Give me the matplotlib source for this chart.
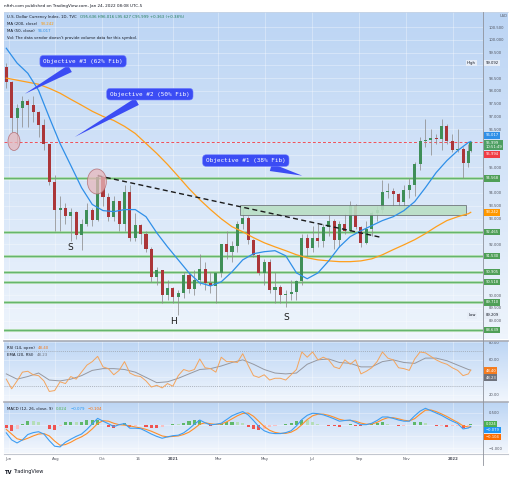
import numpy as np
import pandas as pd
import matplotlib
matplotlib.use("Agg")
import matplotlib.pyplot as plt
import matplotlib.dates as mdates
from matplotlib.colors import LinearSegmentedColormap
from matplotlib.patches import Ellipse, Rectangle
from matplotlib.lines import Line2D
from matplotlib.text import Annotation

# ---------------------------------------------------------------- data
# weekly bars (Friday closes) plus the live bar of Jan 24 2022
weeks = pd.DatetimeIndex(list(pd.date_range("2020-05-29", "2022-01-21", freq="W-FRI"))
                         + [pd.Timestamp("2022-01-24")])
biweeks = pd.DatetimeIndex(list(weeks[0:87:2]) + [weeks[-1]])

first_open = 98.95
close = np.array([
    98.34, 96.94, 97.33, 97.62, 97.43, 97.18, 96.65, 95.90, 94.44, 93.35,
    93.43, 93.09, 93.24, 92.37, 92.78, 93.33, 92.93, 94.64, 93.85, 93.06,
    93.68, 92.77, 94.04, 92.23, 92.76, 92.39, 91.79, 90.70, 90.97, 90.02,
    90.28, 89.94, 90.10, 90.77, 90.23, 90.58, 91.04, 90.48, 90.36, 90.88,
    91.99, 91.67, 91.92, 92.77, 93.02, 92.17, 91.56, 90.86, 91.28, 90.21,
    90.31, 90.01, 90.03, 90.13, 90.55, 92.23, 91.85, 92.23, 92.13, 92.66,
    92.91, 92.17, 92.80, 92.53, 93.50, 92.66, 92.05, 92.58, 93.20, 93.33,
    94.04, 94.09, 93.96, 93.64, 94.12, 94.33, 95.13, 96.03, 96.09, 96.14,
    96.10, 96.62, 96.02, 95.67, 95.73, 95.17, 95.64, 96.00])
high = np.array([
    99.09, 98.40, 97.50, 97.80, 97.70, 97.80, 97.20, 96.90, 95.90, 94.70,
    93.90, 93.60, 93.40, 93.30, 93.00, 93.60, 93.40, 94.75, 94.70, 94.00,
    93.90, 93.70, 94.30, 94.30, 93.20, 92.80, 92.50, 91.90, 91.10, 91.00,
    90.60, 90.30, 90.20, 90.90, 90.90, 91.00, 91.60, 91.30, 90.90, 90.90,
    92.00, 92.50, 92.10, 92.90, 93.44, 93.10, 92.20, 91.60, 91.40, 91.40,
    90.90, 90.40, 90.20, 90.60, 90.60, 92.40, 92.40, 92.70, 92.80, 92.80,
    93.20, 93.00, 92.90, 93.20, 93.70, 93.55, 92.70, 92.90, 93.30, 93.50,
    94.50, 94.40, 94.20, 94.00, 94.30, 94.60, 95.20, 96.20, 96.90, 96.50,
    96.30, 96.90, 96.70, 96.30, 96.50, 95.80, 95.90, 96.02])
low = np.array([
    98.10, 96.40, 95.90, 96.60, 96.60, 96.80, 96.20, 95.70, 94.30, 92.50,
    92.50, 92.80, 92.10, 92.20, 91.75, 92.70, 92.70, 92.90, 93.50, 92.90,
    92.90, 92.50, 92.50, 92.10, 92.10, 92.00, 91.70, 90.50, 90.40, 89.70,
    89.80, 89.70, 89.21, 89.90, 90.10, 90.00, 90.40, 90.20, 90.10, 89.70,
    90.70, 91.40, 91.30, 91.70, 92.60, 92.00, 91.50, 90.80, 90.40, 90.10,
    89.70, 89.70, 89.53, 89.80, 89.80, 90.40, 91.50, 91.70, 91.90, 91.90,
    92.30, 91.80, 91.90, 92.40, 92.50, 92.60, 91.90, 92.00, 92.30, 92.90,
    93.20, 93.80, 93.50, 93.50, 93.30, 93.80, 93.90, 94.90, 95.80, 95.50,
    95.90, 95.70, 95.90, 95.60, 95.60, 94.60, 95.00, 95.60])

ma50 = [99.67, 99.09, 98.69, 98.02, 96.96, 95.94, 95.08, 94.21, 93.55, 93.31,
        93.27, 93.35, 93.35, 93.07, 92.44, 91.89, 91.38, 90.87, 90.48, 90.36,
        90.52, 90.91, 91.38, 91.62, 91.70, 91.74, 91.54, 90.87, 90.64, 90.87,
        91.34, 91.89, 92.29, 92.52, 92.72, 92.92, 93.07, 93.31, 93.66, 94.21,
        94.80, 95.27, 95.66, 95.98, 96.017]
ma200 = [98.50, 98.42, 98.34, 98.26, 98.10, 97.91, 97.67, 97.44, 97.20, 97.00,
         96.84, 96.61, 96.33, 95.94, 95.55, 95.12, 94.65, 94.17, 93.74, 93.35,
         92.99, 92.68, 92.48, 92.25, 92.05, 91.89, 91.74, 91.58, 91.46, 91.38,
         91.34, 91.31, 91.31, 91.34, 91.42, 91.58, 91.78, 91.97, 92.17, 92.41,
         92.68, 92.92, 93.07, 93.19, 93.242]

rsi = [38, 27, 36, 46, 47, 43, 42, 36, 24, 25,
       35, 33, 41, 38, 46, 54, 58, 64, 52, 50,
       43, 48, 58, 45, 42, 41, 36, 29, 31, 28,
       33, 30, 42, 49, 47, 49, 61, 51, 50, 46,
       63, 58, 58, 57, 67, 54, 42, 40, 43, 37,
       39, 39, 37, 43, 49, 69, 63, 69, 60, 63,
       60, 52, 50, 60, 55, 60, 44, 47, 51, 58,
       69, 62, 60, 51, 50, 48, 61, 69, 68, 64,
       60, 57, 55, 51, 48, 42, 44, 48.4]
rsi_ema = [44, 38, 41, 45, 37, 36, 38, 42, 48, 50, 50, 49, 46, 40, 34, 35, 39, 44,
           49, 50, 53, 57, 60, 55, 49, 45, 44, 45, 55, 60, 61, 57, 56, 52, 52, 58,
           60, 57, 56, 62, 62, 59, 54, 49, 48.23]

macd = np.array([
    -0.35, -0.65, -0.78, -0.65, -0.42, -0.34, -0.30, -0.40, -0.68, -0.92,
    -0.95, -0.75, -0.62, -0.50, -0.40, -0.20, 0.04, 0.27, 0.15, 0.04,
    -0.08, 0.00, 0.05, -0.15, -0.15, -0.17, -0.28, -0.40, -0.50, -0.58,
    -0.52, -0.47, -0.45, -0.35, -0.18, 0.02, 0.20, 0.08, -0.01, 0.02,
    0.06, 0.22, 0.38, 0.48, 0.56, 0.42, 0.18, -0.08, -0.26, -0.35,
    -0.38, -0.38, -0.34, -0.26, -0.05, 0.22, 0.40, 0.49, 0.47, 0.42,
    0.34, 0.25, 0.15, 0.18, 0.20, 0.10, 0.00, 0.00, 0.06, 0.18,
    0.33, 0.33, 0.27, 0.20, 0.15, 0.15, 0.38, 0.58, 0.70, 0.60,
    0.50, 0.40, 0.27, 0.15, 0.05, -0.18, -0.14, -0.079])
signal = np.array([
    -0.20, -0.40, -0.60, -0.66, -0.58, -0.48, -0.40, -0.38, -0.48, -0.70,
    -0.88, -0.85, -0.75, -0.62, -0.52, -0.38, -0.18, 0.05, 0.17, 0.15,
    0.06, 0.00, -0.02, -0.05, -0.10, -0.14, -0.20, -0.28, -0.38, -0.48,
    -0.52, -0.50, -0.48, -0.42, -0.32, -0.16, 0.02, 0.08, 0.04, 0.01,
    0.03, 0.12, 0.25, 0.38, 0.48, 0.50, 0.36, 0.14, -0.08, -0.24,
    -0.33, -0.37, -0.37, -0.32, -0.20, 0.00, 0.22, 0.38, 0.45, 0.45,
    0.40, 0.32, 0.23, 0.18, 0.18, 0.15, 0.07, 0.02, 0.03, 0.10,
    0.22, 0.30, 0.30, 0.25, 0.19, 0.16, 0.26, 0.45, 0.62, 0.63,
    0.56, 0.46, 0.35, 0.22, 0.10, -0.05, -0.10, -0.104])

support_levels = [94.568, 92.465, 91.530, 90.905, 90.518, 89.710, 88.639]
last_price = 95.999
zone = ("2021-03-30", "2022-01-18", 93.15, 93.545)
trend = (("2020-09-25", 94.68), ("2021-10-01", 92.25))

month_ticks = ["2020-06-01", "2020-08-01", "2020-10-01", "2020-11-16", "2021-01-01",
               "2021-03-01", "2021-05-01", "2021-07-01", "2021-09-01", "2021-11-01",
               "2022-01-01"]
month_labels = ["Jun", "Aug", "Oct", "16", "2021", "Mar", "May", "Jul", "Sep", "Nov", "2022"]

# ---------------------------------------------------------------- layout helpers
W, H = 512, 480
X0, X1 = 4, 483          # plot area in pixels
XL = (pd.Timestamp("2020-05-26"), pd.Timestamp("2022-02-09"))
TOP_C = "#bcd5f4"


def fx(px):
    return px / W


def fy(py):
    return 1 - py / H


def d(s):
    return mdates.date2num(pd.Timestamp(s))


fig = plt.figure(figsize=(5.12, 4.8), dpi=100)
fig.patch.set_facecolor("white")


def panel(top, bottom, c_bot):
    bg = fig.add_axes([fx(X0), fy(bottom), fx(508 - X0), (bottom - top) / H], zorder=0)
    cmap = LinearSegmentedColormap.from_list("g", [c_bot, TOP_C])
    bg.imshow(np.linspace(1, 0, 64)[:, None], aspect="auto", cmap=cmap,
              extent=[0, 1, 0, 1], vmin=0, vmax=1)
    bg.set_axis_off()
    ax = fig.add_axes([fx(X0), fy(bottom), fx(X1 - X0), (bottom - top) / H], zorder=2)
    ax.set_facecolor("none")
    for s in ax.spines.values():
        s.set_visible(False)
    ax.set_xlim(*XL)
    ax.yaxis.tick_right()
    ax.tick_params(axis="y", length=0, pad=4, labelsize=2.7, labelcolor="#50535e")
    ax.tick_params(axis="x", length=0, labelbottom=False)
    ax.set_xticks([pd.Timestamp(t) for t in month_ticks])
    ax.grid(True, color="white", alpha=0.45, lw=0.5)
    return ax


def set_yticks(ax, ticks, shown, fmt):
    ax.set_yticks(ticks)
    ax.set_yticklabels([fmt.format(t).replace("-", "\u2212") if t in shown else ""
                        for t in ticks])


def badge(ax, y, text, fc, tc="white"):
    ax.text(1.005, y, text, transform=ax.get_yaxis_transform(), fontsize=2.7, color=tc,
            va="center", ha="left", linespacing=1.1, clip_on=False, zorder=10,
            bbox=dict(boxstyle="square,pad=0.35", fc=fc, ec="none"))


# ---------------------------------------------------------------- main price panel
ax = panel(12, 339, "#eef4fc")
ax.set_ylim(88.28, 101.09)
ticks = list(np.arange(88.5, 101.0, 0.5))
shown = [100.5, 100.0, 99.5, 98.5, 98.0, 97.5, 97.0, 96.5, 95.0, 94.0, 93.5, 93.0,
         92.0, 90.0, 89.5, 89.0]
set_yticks(ax, ticks, shown, "{:.3f}")

opens = np.r_[first_open, close[:-1]]
up = close >= opens
ax.vlines(weeks, low, high, color="#8e8e8e", lw=0.55, zorder=3)
ax.bar(weeks, close - opens, bottom=opens, width=4.0,
       color=np.where(up, "#3f8f58", "#ab3639"), zorder=4)

ax.plot(biweeks, ma200, color="#ff9f1c", lw=0.9, zorder=5)
ax.plot(biweeks, ma50, color="#2f8fe8", lw=0.9, zorder=5)

for lvl in support_levels:
    ax.axhline(lvl, color="#a9d9a9", lw=2.0, zorder=2)
    ax.axhline(lvl, color="#5aae62", lw=0.6, zorder=2)
ax.axhline(last_price, color="#ef4f5a", lw=0.7, dashes=(3, 2.2), zorder=2)

ax.add_patch(Rectangle((d(zone[0]), zone[2]), d(zone[1]) - d(zone[0]), zone[3] - zone[2],
                       fc="#b9dfc4", ec="#666a70", lw=0.6, alpha=0.9, zorder=4))
ax.plot([pd.Timestamp(trend[0][0]), pd.Timestamp(trend[1][0])],
        [trend[0][1], trend[1][1]], color="#1b1b1b", lw=1.0, dashes=(3.6, 2.4), zorder=6)

for c, w, h in [(("2020-06-08", 96.02), 15.6, 0.71), (("2020-09-24", 94.45), 24.8, 0.98)]:
    ax.add_patch(Ellipse((d(c[0]), c[1]), w, h, fc="#e7b7bb", ec="#b0646a", lw=0.6,
                         alpha=0.75, zorder=7))

for txt, (dt, p) in [("S", ("2020-08-20", 91.86)), ("H", ("2021-01-02", 88.95)),
                     ("S", ("2021-05-29", 89.14))]:
    ax.text(d(dt), p, txt, fontsize=6.5, color="#1a1a1a", ha="center", va="center", zorder=8)

BLUE = "#3b4cf4"
for txt, tip, box in [("Objective #3 (62% Fib)", ("2020-06-19", 97.83), ("2020-09-06", 99.16)),
                      ("Objective #2 (50% Fib)", ("2020-08-23", 96.14), ("2020-12-02", 97.87)),
                      ("Objective #1 (38% Fib)", ("2021-06-22", 94.65), ("2021-04-06", 95.27))]:
    ax.annotate(txt, xy=(d(tip[0]), tip[1]), xytext=(d(box[0]), box[1]),
                fontsize=4.3, family="DejaVu Sans Mono", color="white",
                ha="center", va="center", zorder=9,
                bbox=dict(boxstyle="round,pad=0.55,rounding_size=0.6", fc=BLUE,
                          ec="#6e7cff", lw=0.4),
                arrowprops=dict(arrowstyle="wedge,tail_width=1.3,shrink_factor=0.5",
                                fc=BLUE, ec="none"))

# right-hand price badges
GREEN = "#4f9f57"
for lvl in support_levels:
    badge(ax, lvl, f"{lvl:.3f}", GREEN)
badge(ax, 99.092, "99.092", "#e6edf7", "#131722")
badge(ax, 89.209, "89.209", "#e6edf7", "#131722")
badge(ax, 96.26, "96.017", "#2f8fe8")
badge(ax, 95.88, "95.999\n10:51:49", "#4e9f63")
badge(ax, 95.51, "95.994", "#f03a45")
badge(ax, 93.242, "93.242", "#ff9800")
for lbl, p in [("High", 99.092), ("Low", 89.209)]:
    ax.text(0.985, p, lbl, transform=ax.get_yaxis_transform(), fontsize=2.7,
            color="#131722", ha="right", va="center", zorder=10,
            bbox=dict(boxstyle="square,pad=0.35", fc="#e6edf7", ec="none"))
ax.text(1.035, 101.0, "USD", transform=ax.get_yaxis_transform(), fontsize=2.6,
        color="#50535e", ha="left", va="top", clip_on=False)

fig.text(fx(4), fy(6), "nftrh.com published on TradingView.com, Jan 24, 2022 08:08 UTC-5",
         fontsize=3.0, color="#131722", va="center")

# ---------------------------------------------------------------- RSI panel
ax_rsi = panel(341, 401, "#f1f6fd")
ax_rsi.set_ylim(13.1, 81.5)
set_yticks(ax_rsi, [20, 40, 60, 80], [20, 60, 80], "{:.2f}")
ax_rsi.axhline(70, color="#9aa0aa", lw=0.5, dashes=(1.5, 1.5))
ax_rsi.axhline(30, color="#9aa0aa", lw=0.5, dashes=(1.5, 1.5))
ax_rsi.plot(biweeks, rsi_ema, color="#9598a1", lw=0.7, zorder=4)
ax_rsi.plot(weeks, rsi, color="#f4a45c", lw=0.7, zorder=5)
badge(ax_rsi, 47.7, "48.40", "#f57c1f")
badge(ax_rsi, 39.6, "48.23", "#6f737d")

# ---------------------------------------------------------------- MACD panel
ax_m = panel(402, 453, "#f3f7fd")
ax_m.set_ylim(-1.21, 0.97)
set_yticks(ax_m, [-1.0, -0.5, 0.0, 0.5], [-1.0, 0.5], "{:.3f}")
hist = macd - signal
prev = np.r_[hist[0], hist[:-1]]
hcol = np.where(hist >= 0, np.where(hist >= prev, "#5fb86a", "#b5deb8"),
                np.where(hist <= prev, "#ef5350", "#f7c1c4"))
ax_m.bar(weeks, hist, width=4.0, color=hcol, zorder=3)
ax_m.plot(weeks, signal, color="#ff8f2a", lw=0.8, zorder=4)
ax_m.plot(weeks, macd, color="#3d9df2", lw=0.8, zorder=5)
badge(ax_m, 0.03, "0.024", "#4caf50")
badge(ax_m, -0.23, "\u22120.079", "#2196f3")
badge(ax_m, -0.53, "\u22120.104", "#ff6d00")

ax_m.tick_params(axis="x", labelbottom=True, pad=3, labelsize=2.8, labelcolor="#50535e")
ax_m.set_xticklabels(month_labels)
for t in ax_m.get_xticklabels():
    if t.get_text() in ("2021", "2022"):
        t.set_fontweight("bold")

# ---------------------------------------------------------------- legend lines
header_lines = [
    (17, [("U.S. Dollar Currency Index, 1D, TVC", "#131722"),
          ("O95.636 H96.016 L95.627 C95.999 +0.363 (+0.38%)", "#1f7a55")]),
    (24, [("MA (200, close)", "#131722"), ("93.242", "#ff9800")]),
    (31, [("MA (50, close)", "#131722"), ("96.017", "#2f8fe8")]),
    (38, [("Vol: The data vendor doesn't provide volume data for this symbol.", "#131722")]),
    (348, [("RSI (14, open)", "#131722"), ("48.40", "#f57c1f")]),
    (355, [("EMA (20, RSI)", "#131722"), ("48.23", "#6f737d")]),
    (409, [("MACD (12, 26, close, 9)", "#131722"), ("0.024", "#4caf50"),
           ("\u22120.079", "#2196f3"), ("\u22120.104", "#ff6d00")]),
]
for py, parts in header_lines:
    anchor = fig.text(fx(7), fy(py), parts[0][0], fontsize=2.8, color=parts[0][1],
                      va="center")
    for txt, col in parts[1:]:
        anchor = fig.add_artist(Annotation(
            txt, xy=(1, 0.5), xycoords=anchor, xytext=(2.2, 0), textcoords="offset points",
            fontsize=2.8, color=col, va="center", ha="left", annotation_clip=False))

# ---------------------------------------------------------------- frame lines
for py, col, lw in [(12, "#c9d4e2", 0.5), (340.5, "#a9adb6", 1.2),
                    (401.5, "#a9adb6", 1.2), (453.5, "#c3c7cf", 0.8)]:
    fig.add_artist(Line2D([fx(X0), fx(508)], [fy(py), fy(py)], color=col, lw=lw, zorder=3))
fig.add_artist(Line2D([fx(X1), fx(X1)], [fy(12), fy(465)], color="#8f939c", lw=0.6, zorder=3))

fig.text(fx(4), fy(472), "TV", fontsize=3.8, fontweight="bold", color="#131722", va="center")
fig.text(fx(13), fy(472), "TradingView", fontsize=3.6, color="#131722", va="center")

fig.savefig("out.png", dpi=100)
